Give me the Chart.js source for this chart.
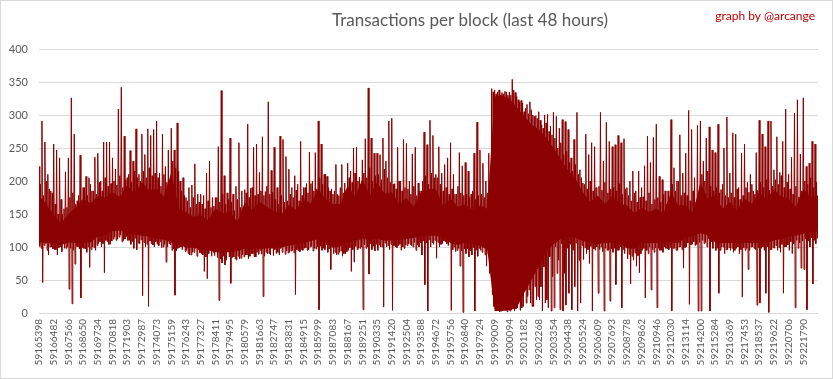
<!DOCTYPE html>
<html><head><meta charset="utf-8">
<script src="https://cdn.jsdelivr.net/npm/chart.js@4/dist/chart.umd.min.js"></script>
<style>html,body{margin:0;padding:0;background:#fff}#wrap{width:833px;height:379px;position:relative}</style>
</head><body><div id="wrap"><canvas id="c" width="833" height="379"></canvas></div>
<script>
const titleText = 'Transactions per block (last 48 hours)';
const creditText = 'graph by @arcange';

const tickBlocks = ['59165398','59166482','59167566','59168650','59169734','59170818','59171903','59172987','59174073','59175159',
'59176243','59177327','59178411','59179495','59180579','59181663','59182747','59183831','59184915','59185999',
'59187083','59188167','59189251','59190335','59191420','59192504','59193588','59194672','59195756','59196840',
'59197924','59199009','59200094','59201182','59202268','59203354','59204438','59205524','59206609','59207693',
'59208778','59209862','59210946','59212030','59213114','59214200','59215284','59216369','59217453','59218537',
'59219622','59220706','59221790'];

// spike tops of the transactions-per-block trace (5 per label interval)
const hiVals = [
222,291,259,210,185, 256,247,235,150,214, 235,326,271,170,239, 190,207,205,185,236, 242,200,259,259,259,
235,218,309,342,268, 205,246,230,279,210, 271,240,279,269,278, 291,212,271,222,247, 280,247,288,200,205,
175,190,194,226,180, 180,178,212,230,175, 175,252,337,208,182, 265,180,192,258,185, 187,286,189,251,256,
213,267,184,320,216, 251,190,268,263,237, 218,190,208,195,260, 190,196,244,200,243, 291,256,210,207,185,
180,225,178,225,197, 227,215,250,251,206, 232,264,341,265,242, 242,240,265,230,291, 295,196,251,200,263,
257,200,241,251,197, 185,274,255,292,269, 210,252,212,225,235, 258,210,180,243,223, 228,215,180,242,289,
247,227,200,242,340, 338,335,330,332,335, 335,354,334,323,322, 305,316,320,300,299, 305,285,300,301,283,
304,298,280,293,290, 278,235,263,304,217, 197,271,240,258,252, 177,304,230,289,260, 252,255,269,258,264,
190,200,215,185,215, 190,223,268,228,266, 286,207,202,185,185, 293,220,200,270,212, 242,307,278,205,284,
291,230,265,282,247, 243,286,187,250,297, 212,273,271,190,242, 256,198,210,185,243, 292,271,252,291,291,
217,267,213,260,309, 210,236,303,323,241, 326,222,227,260,256, 150];

// spike bottoms of the trace (5 per label interval)
const loVals = [
101,46,105,88,100, 96,88,100,105,98, 36,14,74,100,23, 98,92,69,100,95, 105,100,61,108,104,
112,110,115,108,112, 110,104,98,96,105, 26,100,10,105,100, 104,108,100,77,105, 95,27,98,100,102,
95,88,92,98,96, 90,63,52,95,92, 93,19,76,73,95, 45,85,80,82,88, 88,82,90,85,92,
95,25,92,90,98, 96,92,98,100,94, 92,95,28,94,96, 98,95,100,94,97, 5,95,96,92,66,
90,88,92,86,90, 95,63,77,96,98, 5,98,59,96,94, 95,100,9,100,96, 4,100,102,95,98,
102,104,100,95,100, 88,43,3,100,104, 83,100,105,108,102, 4,100,95,71,1, 90,85,88,3,86,
95,100,71,60,28, 20,5,3,10,2, 3,10,6,35,8, 50,25,15,10,20, 20,3,15,8,3,
8,60,5,3,12, 30,5,40,3,15, 81,90,75,3,95, 30,100,3,95,18, 92,43,95,8,90,
82,44,80,71,61, 95,23,90,35,92, 8,95,92,98,96, 3,98,95,100,68, 100,13,104,102,3,
3,105,100,3,98, 95,30,100,90,96, 95,92,98,90,24, 95,66,100,98,12, 15,100,30,1,96,
98,95,92,30,100, 95,90,8,98,68, 66,5,100,44,105];

// ordinary (non-spike) upper swings between the spikes (5 per label interval)
const hiFringe = [
195,178,200,188,182, 165,150,172,158,160, 175,182,165,178,170, 190,178,195,185,180, 198,185,205,192,196,
200,194,208,190,202, 210,198,215,205,200, 215,205,220,208,212, 205,192,210,198,196, 230,220,215,185,178,
170,160,175,165,168, 165,158,170,160,162, 175,168,180,165,172, 168,155,172,160,158, 182,175,190,178,180,
185,178,192,180,183, 172,165,178,168,170, 180,175,186,170,178, 190,182,196,185,188, 205,195,210,190,188,
185,180,190,182,186, 205,198,212,200,195, 212,205,220,200,208, 210,202,218,205,198, 195,188,200,185,190,
188,180,192,178,185, 200,208,195,212,205, 205,195,185,190,180, 188,180,192,182,178, 180,175,185,172,178,
180,175,182,170,335, 332,338,334,336,330, 330,338,328,320,318, 310,302,308,298,295, 292,280,288,275,270,
265,250,258,240,245, 228,215,225,210,205, 195,188,200,185,190, 192,186,198,182,188, 190,185,196,180,188,
178,170,182,168,175, 176,170,182,165,172, 175,168,180,165,172, 195,185,200,178,182, 178,170,185,168,175,
210,200,215,192,185, 190,182,195,178,175, 182,175,188,172,178, 190,183,195,180,186, 198,190,202,186,192,
202,195,208,190,198, 188,180,192,176,185, 200,195,205,190,198];

// ordinary lower swings between the spikes (5 per label interval)
const loFringe = [
98,102,95,100,97, 96,99,93,98,100, 98,95,101,97,99, 97,100,96,99,102, 108,105,110,104,109,
115,112,118,110,116, 110,108,113,106,111, 107,104,109,103,108, 102,99,104,100,103, 97,94,99,96,93,
90,88,92,86,91, 88,85,90,86,87, 84,82,86,80,85, 84,82,86,83,85, 88,86,90,85,89,
89,86,90,88,87, 90,88,92,89,91, 94,91,96,93,95, 99,96,101,98,100, 101,98,103,97,100,
92,89,94,90,93, 99,96,101,98,100, 103,100,105,101,104, 103,100,106,102,104, 102,99,104,100,103,
105,102,107,103,106, 109,106,111,107,110, 107,104,109,105,108, 96,93,98,94,97, 97,94,99,95,98,
92,88,90,80,10, 8,2,12,4,6, 5,3,8,4,10, 15,35,10,40,25, 40,70,20,85,55,
100,80,105,60,98, 104,95,106,80,102, 99,96,101,97,100, 96,93,98,95,97, 98,95,100,96,99,
89,86,91,87,90, 98,95,100,96,99, 98,95,100,97,99, 98,95,100,96,99, 106,103,108,104,107,
110,107,112,108,111, 98,95,100,96,99, 98,95,100,96,99, 98,95,100,96,99, 98,95,100,96,99,
102,99,104,100,103, 108,105,110,106,109, 112,109,114,110,113];

// top and bottom of the solid core of the trace (2 per label interval)
const bandTop = [
178,165, 148,136, 150,160, 173,166, 178,175, 183,176, 193,181, 198,186, 188,176, 213,158,
153,146, 148,141, 158,151, 153,138, 168,156, 168,161, 154,150, 164,156, 173,166, 188,172,
165,165, 193,176, 203,178, 198,181, 183,166, 174,161, 183,188, 188,162, 173,161, 164,156,
163,158, 328,330, 325,312, 298,286, 278,266, 250,233, 216,203, 183,168, 178,166, 178,166,
163,151, 160,153, 158,151, 183,163, 163,151, 198,173, 178,158, 168,156, 173,166, 183,172,
188,176, 173,161, 188,176, 178];
const bandBot = [
107,106, 106,103, 107,106, 106,107, 116,118, 124,125, 120,119, 117,116, 112,111, 107,104,
99,99, 97,96, 92,92, 92,94, 97,97, 97,98, 99,100, 102,104, 107,109, 112,106,
99,101, 107,109, 112,111, 112,110, 110,110, 112,114, 117,117, 117,114, 106,103, 107,104,
102,96, 3,3, 4,8, 30,50, 70,92, 104,112, 116,114, 109,107, 104,106, 107,106,
98,97, 107,106, 106,107, 107,106, 114,117, 121,118, 107,106, 106,107, 107,106, 107,106,
110,112, 116,117, 120,122, 124];

const yMin = 0, yMax = 400, yStep = 50;
const perLabel = 20, perBand = 10;

const trace = [];
let xi = 0;
for (let j = 0; j < loVals.length; j++) {
  trace.push({ x: xi++, y: hiVals[j] });
  trace.push({ x: xi++, y: loVals[j] });
  trace.push({ x: xi++, y: hiFringe[j] });
  trace.push({ x: xi++, y: loFringe[j] });
}
trace.push({ x: xi, y: hiVals[hiVals.length - 1] });
const lastX = xi;
const bandBotPts = bandBot.map((v, k) => ({ x: k * perBand, y: v }));
const bandTopPts = bandTop.map((v, k) => ({ x: k * perBand, y: v }));

const FONT = 'Lato, "Open Sans", "Liberation Sans", sans-serif';
const RED = '#8b0000';

const decor = {
  id: 'decor',
  beforeDraw(chart) {
    const ctx = chart.ctx;
    ctx.save();
    ctx.fillStyle = '#ffffff';
    ctx.fillRect(0, 0, chart.width, chart.height);
    ctx.strokeStyle = '#d9d9d9';
    ctx.lineWidth = 1;
    ctx.strokeRect(0.5, 0.5, chart.width - 1, chart.height - 1);
    ctx.restore();
  },
  afterDraw(chart) {
    const ctx = chart.ctx;
    ctx.save();
    ctx.fillStyle = '#595959';
    ctx.font = '17px ' + FONT;
    ctx.textAlign = 'center';
    ctx.textBaseline = 'alphabetic';
    ctx.fillText(titleText, 470, 26);
    ctx.fillStyle = '#c00000';
    ctx.font = '12px ' + FONT;
    ctx.textAlign = 'right';
    ctx.fillText(creditText, 815, 20);
    ctx.restore();
  }
};

new Chart(document.getElementById('c'), {
  type: 'line',
  data: {
    datasets: [
      { data: bandBotPts, borderWidth: 0, borderColor: RED, pointRadius: 0, fill: false, tension: 0 },
      { data: bandTopPts, borderWidth: 0, borderColor: RED, backgroundColor: RED, pointRadius: 0, fill: '-1', tension: 0 },
      { data: trace, borderColor: RED, borderWidth: 1, pointRadius: 0, tension: 0, fill: false }
    ]
  },
  options: {
    responsive: false,
    animation: false,
    devicePixelRatio: 1,
    layout: { padding: { top: 49, right: 15, left: 0, bottom: 0 } },
    plugins: { legend: { display: false }, tooltip: { enabled: false }, title: { display: false } },
    scales: {
      x: {
        type: 'linear',
        min: 0, max: lastX,
        grid: { display: false, drawTicks: false },
        border: { display: false },
        afterBuildTicks(scale) { scale.ticks = tickBlocks.map((b, k) => ({ value: k * perLabel })); },
        ticks: {
          autoSkip: false, maxRotation: 90, minRotation: 90, padding: 6,
          color: '#595959', font: { family: FONT, size: 10 },
          callback: function(v) { return tickBlocks[Math.round(v / perLabel)]; }
        },
        afterFit(scale) { scale.height = 66; }
      },
      y: {
        min: yMin, max: yMax,
        grid: { color: '#d9d9d9', drawTicks: false, lineWidth: 1 },
        border: { display: false },
        ticks: { stepSize: yStep, padding: 11, color: '#595959', font: { family: FONT, size: 11 } },
        afterFit(scale) { scale.width = 39; }
      }
    }
  },
  plugins: [decor]
});
</script></body></html>
